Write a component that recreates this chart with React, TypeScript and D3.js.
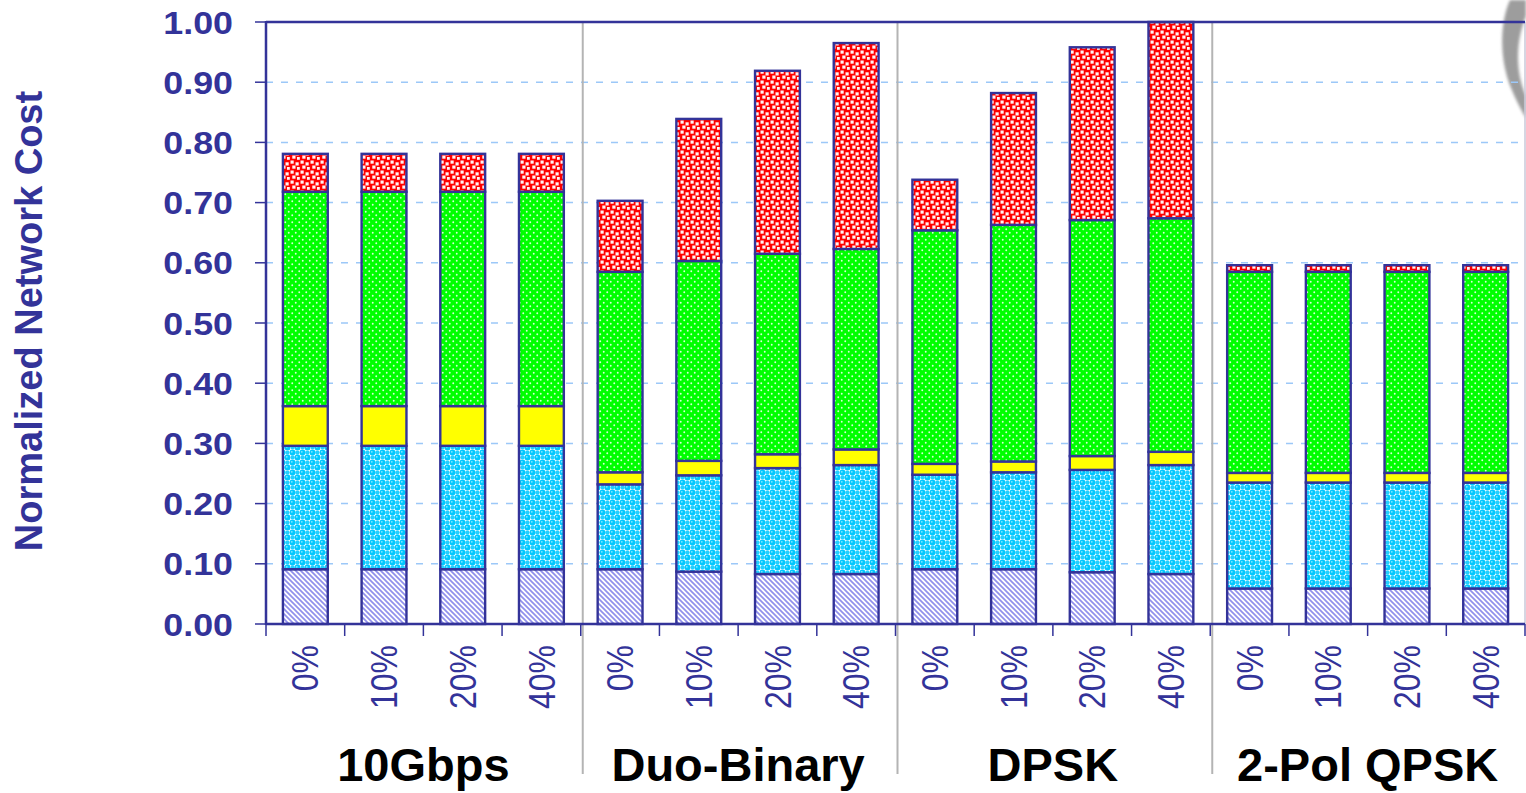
import React from "react";
import * as d3 from "d3";

// Modulation formats and traffic share levels
const groups = ["10Gbps", "Duo-Binary", "DPSK", "2-Pol QPSK"];
const shares = ["0%", "10%", "20%", "40%"];

// Cost components, bottom to top of each stack (one value per bar, 16 bars)
const common = [
  0.091, 0.091, 0.091, 0.091,
  0.091, 0.087, 0.083, 0.083,
  0.091, 0.091, 0.086, 0.083,
  0.059, 0.059, 0.059, 0.059,
];
const transponder = [
  0.205, 0.205, 0.205, 0.205,
  0.141, 0.160, 0.176, 0.181,
  0.157, 0.161, 0.170, 0.181,
  0.176, 0.176, 0.176, 0.176,
];
const regen = [
  0.066, 0.066, 0.066, 0.066,
  0.020, 0.024, 0.023, 0.026,
  0.018, 0.018, 0.023, 0.022,
  0.016, 0.016, 0.016, 0.016,
];
const lineSystem = [
  0.356, 0.356, 0.356, 0.356,
  0.333, 0.332, 0.333, 0.333,
  0.388, 0.393, 0.392, 0.388,
  0.334, 0.334, 0.334, 0.334,
];
const compensation = [
  0.063, 0.063, 0.063, 0.063,
  0.118, 0.236, 0.304, 0.342,
  0.084, 0.219, 0.287, 0.326,
  0.011, 0.011, 0.011, 0.011,
];

const yTicks = [0, 0.1, 0.2, 0.3, 0.4, 0.5, 0.6, 0.7, 0.8, 0.9, 1.0];

const seriesKeys = ["common", "transponder", "regen", "lineSystem", "compensation"];
const seriesFill: Record<string, string> = {
  common: "url(#pHatch)",
  transponder: "url(#pBubble)",
  regen: "#ffff00",
  lineSystem: "url(#pDots)",
  compensation: "url(#pSquares)",
};

const W = 1526;
const H = 793;
const left = 266;
const right = 1525;
const top = 22;
const bottom = 624;
const NAVY = "#333399";
const FONT = "'Liberation Sans', Arial, Helvetica, sans-serif";

export default function App() {
  const rows = groups.flatMap((g, gi) =>
    shares.map((s, si) => {
      const i = gi * shares.length + si;
      return {
        key: `${g}|${s}`,
        group: g,
        share: s,
        common: common[i],
        transponder: transponder[i],
        regen: regen[i],
        lineSystem: lineSystem[i],
        compensation: compensation[i],
      };
    })
  );

  const x = d3
    .scaleBand<string>()
    .domain(rows.map((r) => r.key))
    .range([left, right])
    .paddingInner(0.43)
    .paddingOuter(0.215);
  const step = x.step();
  const y = d3.scaleLinear().domain([0, 1]).range([bottom, top]);

  const stacked = d3.stack<any>().keys(seriesKeys)(rows);

  const boundaries = d3.range(rows.length + 1).map((i) => left + i * step);
  const groupEdges = d3.range(groups.length + 1).map((g) => left + g * shares.length * step);

  return (
    <svg
      width={W}
      height={H}
      style={{ position: "absolute", left: 0, top: 0, background: "#fff" }}
    >
      <defs>
        <pattern id="pHatch" patternUnits="userSpaceOnUse" width="5" height="5">
          <rect width="5" height="5" fill="#ffffff" />
          <path
            d="M-1,-1 L6,6 M-1,4 L1,6 M4,-1 L6,1"
            stroke="#9090ec"
            strokeWidth="1.7"
          />
        </pattern>
        <pattern id="pBubble" patternUnits="userSpaceOnUse" width="10" height="10">
          <rect width="10" height="10" fill="#ffffff" />
          <circle cx="2.5" cy="2.5" r="3" fill="#00c8ff" />
          <circle cx="7.5" cy="7.5" r="3" fill="#00c8ff" />
          <circle cx="7.5" cy="2.5" r="2.2" fill="#22d0ff" />
          <circle cx="2.5" cy="7.5" r="2.2" fill="#22d0ff" />
          <circle cx="1.8" cy="1.8" r="0.9" fill="#8ae6ff" />
          <circle cx="6.8" cy="6.8" r="0.9" fill="#8ae6ff" />
        </pattern>
        <pattern id="pDots" patternUnits="userSpaceOnUse" width="7" height="7">
          <rect width="7" height="7" fill="#00ff00" />
          <circle cx="1.75" cy="1.75" r="0.95" fill="#d8ffd8" />
          <circle cx="5.25" cy="5.25" r="0.95" fill="#d8ffd8" />
        </pattern>
        <pattern id="pSquares" patternUnits="userSpaceOnUse" width="10" height="10">
          <rect width="10" height="10" fill="#ff0000" />
          <rect x="0.5" y="0.5" width="3.2" height="3.2" fill="#fff2f2" />
          <rect x="5.5" y="2.3" width="3.2" height="3.2" fill="#fff2f2" />
          <rect x="2.3" y="5.5" width="3.2" height="3.2" fill="#fff2f2" />
          <rect x="7.0" y="7.0" width="2.8" height="2.8" fill="#fff2f2" />
        </pattern>
        <filter id="soft" x="-50%" y="-50%" width="200%" height="200%">
          <feGaussianBlur stdDeviation="1.6" />
        </filter>
      </defs>

      {/* faint logo swoosh in the corner */}
      <path
        d="M1526,0 L1510,0 C1500,22 1499,58 1511,88 C1516,100 1521,110 1526,118 L1526,96 C1518,78 1513,48 1526,16 Z"
        fill="#8c8c8c"
        opacity={0.85}
        filter="url(#soft)"
      />

      {/* horizontal dashed gridlines */}
      {yTicks
        .filter((t) => t > 0 && t < 1)
        .map((t) => (
          <line
            key={`g${t}`}
            x1={left}
            x2={right}
            y1={y(t)}
            y2={y(t)}
            stroke="#9cc8f8"
            strokeWidth={1.5}
            strokeDasharray="7,8"
          />
        ))}

      {/* group separators */}
      {groupEdges.slice(1, -1).map((gx, i) => (
        <line
          key={`sep${i}`}
          x1={gx + 2}
          x2={gx + 2}
          y1={top}
          y2={774}
          stroke="#b4b4b4"
          strokeWidth={2}
        />
      ))}

      {/* right frame edge */}
      <line x1={right} x2={right} y1={top} y2={bottom} stroke="#c8c8d8" strokeWidth={1.5} />

      {/* stacked bars */}
      {stacked.map((layer) => (
        <g key={layer.key}>
          {layer.map((d: any) => (
            <rect
              key={d.data.key}
              x={x(d.data.key)}
              width={x.bandwidth()}
              y={y(d[1])}
              height={Math.max(0, y(d[0]) - y(d[1]))}
              fill={seriesFill[layer.key]}
              stroke={NAVY}
              strokeWidth={2.4}
            />
          ))}
        </g>
      ))}

      {/* frame top */}
      <line x1={left} x2={right} y1={top} y2={top} stroke={NAVY} strokeWidth={2.5} />

      {/* y axis */}
      <line x1={left} x2={left} y1={top - 1} y2={bottom + 1} stroke={NAVY} strokeWidth={2.5} />
      {yTicks.map((t) => (
        <g key={`yt${t}`}>
          <line x1={left - 11} x2={left} y1={y(t)} y2={y(t)} stroke={NAVY} strokeWidth={1.5} />
          <text
            transform={`translate(${left - 33},${y(t)}) scale(1.12,1)`}
            dy="0.36em"
            textAnchor="end"
            fontFamily={FONT}
            fontWeight="bold"
            fontSize={32}
            fill={NAVY}
          >
            {t.toFixed(2)}
          </text>
        </g>
      ))}

      {/* x axis */}
      <line x1={left} x2={right} y1={bottom} y2={bottom} stroke={NAVY} strokeWidth={2.5} />
      {boundaries.map((bx, i) => (
        <line
          key={`xt${i}`}
          x1={bx}
          x2={bx}
          y1={bottom}
          y2={bottom + 12}
          stroke={NAVY}
          strokeWidth={1.5}
        />
      ))}

      {/* share labels */}
      {rows.map((r) => {
        const cx = (x(r.key) as number) + x.bandwidth() / 2;
        return (
          <text
            key={`lbl${r.key}`}
            transform={`translate(${cx},645) scale(1.14,1) rotate(-90)`}
            dy="0.36em"
            textAnchor="end"
            fontFamily={FONT}
            fontSize={32}
            fill={NAVY}
          >
            {r.share}
          </text>
        );
      })}

      {/* group labels */}
      {groups.map((g, gi) => (
        <text
          key={`grp${g}`}
          x={(groupEdges[gi] + groupEdges[gi + 1]) / 2}
          y={781}
          textAnchor="middle"
          fontFamily={FONT}
          fontWeight="bold"
          fontSize={47}
          fill="#000000"
        >
          {g}
        </text>
      ))}

      {/* y axis title */}
      <text
        transform={`translate(28,321) rotate(-90)`}
        dy="0.36em"
        textAnchor="middle"
        fontFamily={FONT}
        fontWeight="bold"
        fontSize={38}
        fill={NAVY}
      >
        Normalized Network Cost
      </text>
    </svg>
  );
}
